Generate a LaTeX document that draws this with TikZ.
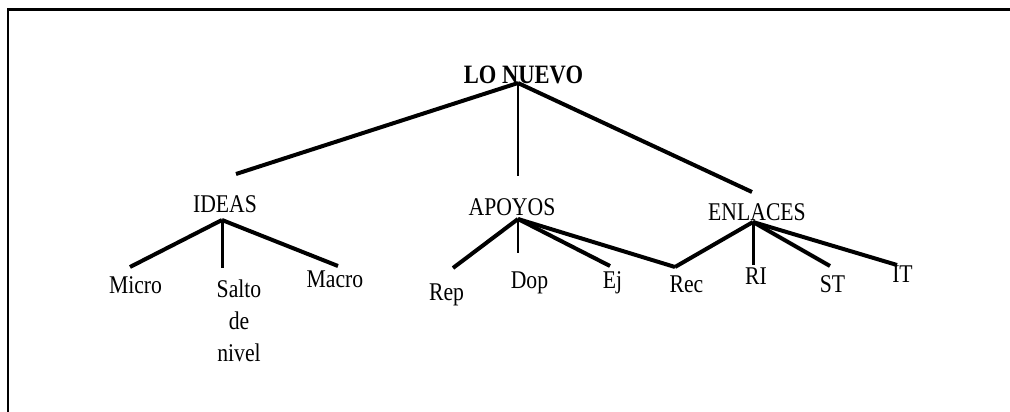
\documentclass[tikz,border=0pt]{standalone}
\usepackage{fontspec}
\setmainfont{Liberation Serif}[FakeStretch=0.85]

\begin{document}
\begin{tikzpicture}[x=1pt,y=-1pt,
every node/.style = {inner sep=0pt, anchor=base, align=center,
	font=\fontsize{25.5}{32}\selectfont},
rama/.style = {line width=4pt},
tallo/.style = {line width=2pt}]
\useasboundingbox (0,0) rectangle (1010,412);
\draw[line width=2.5pt] (8,412) -- (8,9.5) -- (1010,9.5);

% niveles del arbol
\node[font=\fontsize{26.5}{32}\selectfont\bfseries] (nuevo) at (523.5,84) {LO NUEVO};
\node (ideas) at (225,212) {IDEAS};
\node (apoyos) at (512,215) {APOYOS};
\node (enlaces) at (757,220) {ENLACES};
\node (micro) at (135.5,293) {Micro};
\node[anchor=north] (salto) at (239,280) {Salto\\de\\nivel};
\node (macro) at (335,287) {Macro};
\node (rep) at (446.5,300) {Rep};
\node (dop) at (529.5,288) {Dop};
\node (ej) at (612.5,288) {Ej};
\node (rec) at (686.5,292) {Rec};
\node (ri) at (756,284) {RI};
\node (st) at (832.5,292) {ST};
\node (it) at (902.5,282) {IT};

% puntos de union
\coordinate (nuevo-j) at (518,83);
\coordinate (ideas-j) at (222,220);
\coordinate (apoyos-j) at (518,219);
\coordinate (enlaces-j) at (753,222);
\coordinate (ideas-t) at (236,174);
\coordinate (apoyos-t) at (518,176);
\coordinate (enlaces-t) at (752,192);
\coordinate (micro-t) at (130,267);
\coordinate (salto-t) at (222,268);
\coordinate (macro-t) at (338,266);
\coordinate (rep-t) at (453,268);
\coordinate (dop-t) at (518,253);
\coordinate (ej-t) at (610,266);
\coordinate (rec-t) at (675,267);
\coordinate (ri-t) at (753,265);
\coordinate (st-t) at (830,266);
\coordinate (it-t) at (897,265);

\draw[rama] (nuevo-j) -- (ideas-t);
\draw[tallo] (nuevo-j) -- (apoyos-t);
\draw[rama] (nuevo-j) -- (enlaces-t);

\draw[rama] (ideas-j) -- (micro-t);
\draw[line width=3pt] (ideas-j) -- (salto-t);
\draw[rama] (ideas-j) -- (macro-t);

\draw[rama] (apoyos-j) -- (rep-t);
\draw[tallo] (apoyos-j) -- (dop-t);
\draw[rama] (apoyos-j) -- (ej-t);
\draw[rama] (apoyos-j) -- (rec-t);

\draw[rama] (enlaces-j) -- (rec-t);
\draw[line width=3pt] (enlaces-j) -- (ri-t);
\draw[rama] (enlaces-j) -- (st-t);
\draw[rama] (enlaces-j) -- (it-t);
\end{tikzpicture}
\end{document}
